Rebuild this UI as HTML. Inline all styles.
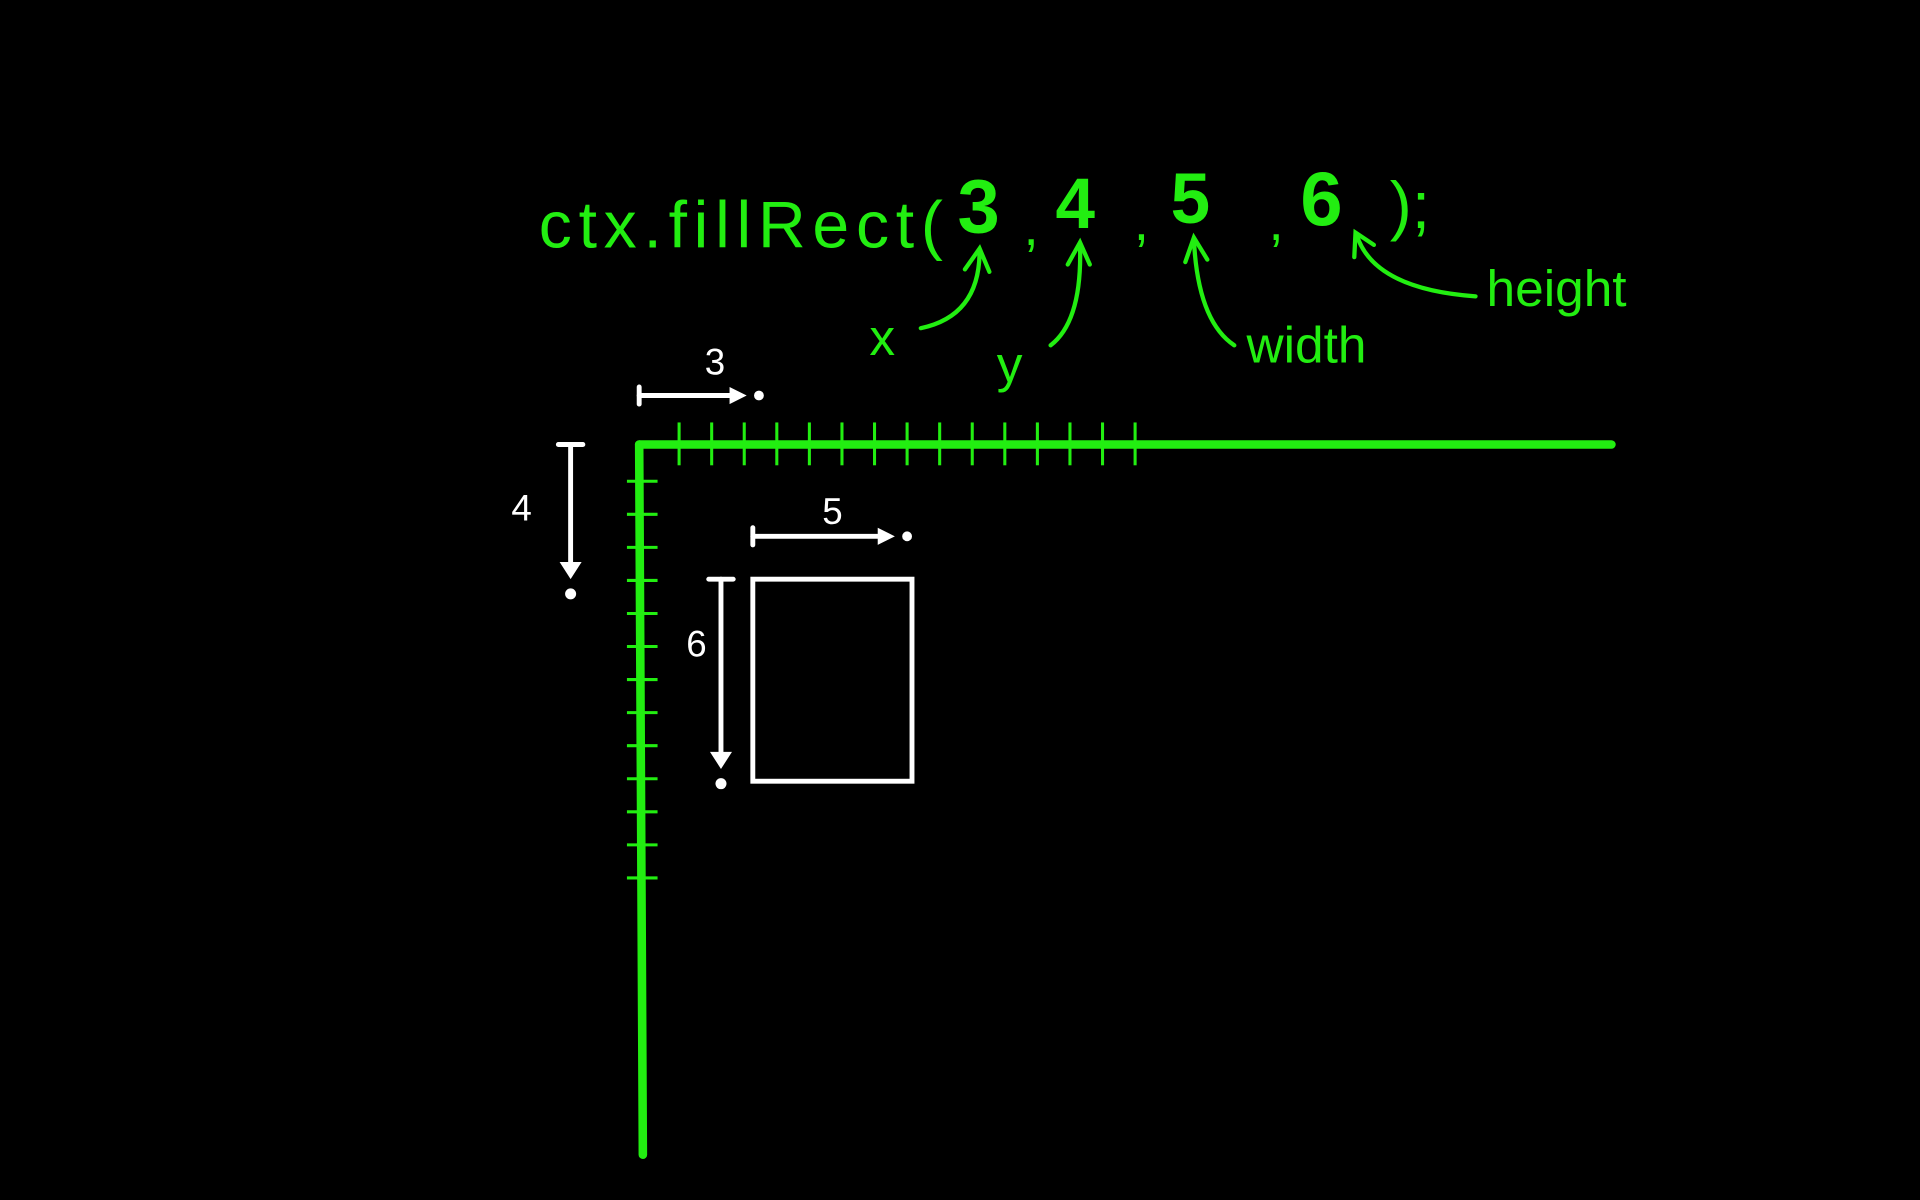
<!DOCTYPE html>
<html><head><meta charset="utf-8"><style>
html,body{margin:0;padding:0;background:#000;width:1920px;height:1200px;overflow:hidden}
svg{display:block}
.g{fill:#22ee11;font-family:"Liberation Sans",sans-serif}
.w{fill:#fff;font-family:"Liberation Sans",sans-serif}
</style></head><body>
<svg id="chart" width="1920" height="1200" viewBox="0 0 1568 980" xmlns="http://www.w3.org/2000/svg">
<rect width="1568" height="980" fill="#000"/>
<g>
<text class="g" x="440" y="202" font-size="54" font-weight="300" textLength="330" lengthAdjust="spacing">ctx.fillRect(</text>
<text class="g" x="782" y="190" font-size="62" font-weight="bold">3</text>
<text class="g" x="836" y="200" font-size="44">,</text>
<text class="g" x="862" y="186" font-size="58" font-weight="bold">4</text>
<text class="g" x="926" y="196" font-size="44">,</text>
<text class="g" x="956" y="182" font-size="58" font-weight="bold">5</text>
<text class="g" x="1036" y="196" font-size="44">,</text>
<text class="g" x="1062" y="184" font-size="62" font-weight="bold">6</text>
<text class="g" x="1135" y="186" font-size="54" font-weight="300">);</text>
</g>
<g fill="none" stroke="#22ee11" stroke-width="3.5" stroke-linecap="round">
<path d="M752 268 Q800 258 800 205"/><path d="M788 220 L800 203 L808 222"/>
<path d="M858 282 Q884 262 882 200"/><path d="M872 216 L882 198 L890 216"/>
<path d="M1008 282 Q978 262 975 195"/><path d="M968 214 L975 194 L986 212"/>
<path d="M1205 242 Q1122 236 1108 192"/><path d="M1106 210 L1107 190 L1122 200"/>
</g>
<text class="g" x="710" y="290" font-size="42">x</text>
<text class="g" x="814" y="312" font-size="42">y</text>
<text class="g" x="1018" y="296" font-size="42">width</text>
<text class="g" x="1214" y="250" font-size="42">height</text>
<g id="axes"></g>
<g id="marks"></g>
</svg>
<script>
const args = [3, 4, 5, 6];
const argNames = ['x', 'y', 'width', 'height'];
const xTickCount = 15;
const yTickCount = 13;
const NS = 'http://www.w3.org/2000/svg';
const ox = 522, oy = 363, ux = 26.6, uy = 27;
const sx = v => ox + v * ux;
const sy = v => oy + v * uy;
function mk(parent, tag, attrs) {
  const e = document.createElementNS(NS, tag);
  for (const k in attrs) e.setAttribute(k, attrs[k]);
  parent.appendChild(e);
  return e;
}
const axes = document.getElementById('axes');
let l = mk(axes, 'line', {x1: ox, y1: oy, x2: 1316, y2: oy, stroke: '#22ee11', 'stroke-width': 7, 'stroke-linecap': 'round'});


l = mk(axes, 'line', {x1: ox, y1: oy, x2: 525, y2: 943, stroke: '#22ee11', 'stroke-width': 7, 'stroke-linecap': 'round'});


for (let i = 1; i <= xTickCount; i++) {
  const t = mk(axes, 'line', {x1: sx(i) + 6, y1: 345, x2: sx(i) + 6, y2: 380, stroke: '#22ee11', 'stroke-width': 2.5});
  
  
}
for (let i = 1; i <= yTickCount; i++) {
  const t = mk(axes, 'line', {x1: 512, y1: sy(i) + 3, x2: 537, y2: sy(i) + 3, stroke: '#22ee11', 'stroke-width': 2.5});
  
  
}
const m = document.getElementById('marks');
const W = {stroke: '#fff', 'stroke-width': 4, fill: 'none', 'stroke-linecap': 'round'};
function arrowH(x1, x2, y, name) {
  const g = mk(m, 'g', {});
  
  
  mk(g, 'line', Object.assign({x1: x1, y1: y, x2: x2 - 8, y2: y}, W));
  mk(g, 'line', Object.assign({x1: x1, y1: y - 7, x2: x1, y2: y + 7}, W));
  mk(g, 'path', {d: `M${x2-14} ${y-7} L${x2} ${y} L${x2-14} ${y+7}Z`, fill: '#fff'});
  mk(g, 'circle', {cx: x2 + 10, cy: y, r: 4, fill: '#fff'});
}
function arrowV(x, y1, y2, name) {
  const g = mk(m, 'g', {});
  
  
  mk(g, 'line', Object.assign({x1: x, y1: y1, x2: x, y2: y2 - 8}, W));
  mk(g, 'line', Object.assign({x1: x - 10, y1: y1, x2: x + 10, y2: y1}, W));
  mk(g, 'path', {d: `M${x-9} ${y2-14} L${x} ${y2} L${x+9} ${y2-14}Z`, fill: '#fff'});
  mk(g, 'circle', {cx: x, cy: y2 + 12, r: 4.5, fill: '#fff'});
}
function label(x, y, txt, name) {
  const t = mk(m, 'text', {x: x, y: y, class: 'w', 'font-size': 30, 'text-anchor': 'middle'});
  t.textContent = txt;
  
  
}
const [vx, vy, vw, vh] = args;
arrowH(ox, sx(vx) + 8, 323, 'x-offset-arrow');
label((ox + sx(vx)) / 2 + 22, 306, String(vx), 'x-offset-label');
arrowV(466, oy, sy(vy) + 2, 'y-offset-arrow');
label(426, 425, String(vy), 'y-offset-label');
const rx = sx(vx) + 13, ry = sy(vy) + 2, rw = vw * ux - 3, rh = vh * uy + 3;
arrowH(rx, rx + rw - 14, 438, 'width-arrow');
label(rx + rw / 2, 428, String(vw), 'width-label');
arrowV(rx - 26, ry, ry + rh - 10, 'height-arrow');
label(rx - 46, ry + 63, String(vh), 'height-label');
const r = mk(m, 'rect', Object.assign({x: rx, y: ry, width: rw, height: rh}, W));


</script>
</body></html>
